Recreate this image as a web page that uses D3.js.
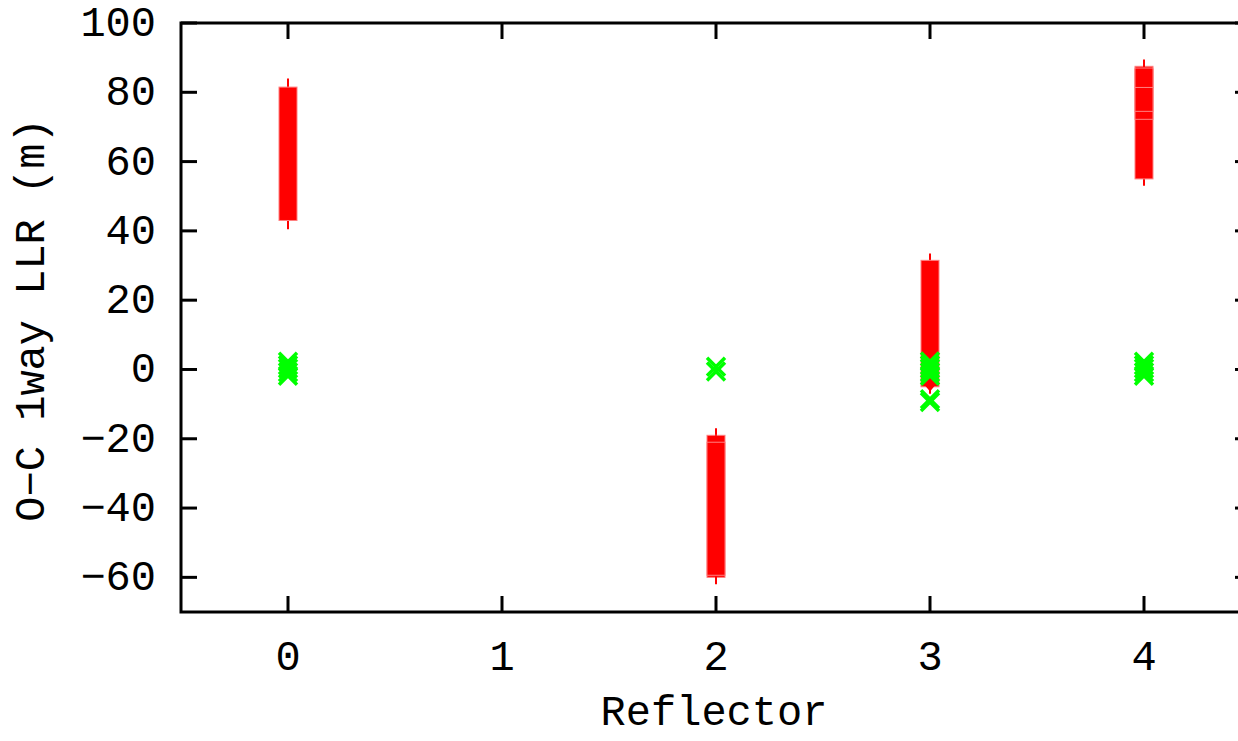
<!DOCTYPE html>
<html>
<head>
<meta charset="utf-8">
<script src="https://cdnjs.cloudflare.com/ajax/libs/d3/7.8.5/d3.min.js"></script>
<style>
  body { margin: 0; background: #fff; }
  text { font-family: "Liberation Mono", "Courier New", monospace; fill: #000; }
</style>
</head>
<body>
<div id="chart"></div>
<script>
// red candles (box lo/hi, whisker min/max) per reflector
var redX   = [0, 2, 2, 3, 4, 4, 4, 4];
var redLo  = [43, -60, -59.4, -5, 55, 72.2, 74.5, 81.4];
var redHi  = [81.5, -19, -21, 31.5, 87.5, 86.6, 81.4, 87];
var redMin = [40.5, -62, -61, -7, 53, 72, 74, 81];
var redMax = [84, -17, -19, 33.5, 89.5, 87, 82, 88];

// stray red point
var redPtX = [3];
var redPtY = [-4.6];

// green x markers
var greenX = [0, 0, 0, 0, 0, 2, 2, 3, 3, 3, 3, 3, 3, 3, 4, 4, 4, 4, 4];
var greenY = [2.2, 1.2, 0.3, -0.8, -1.8, 0.8, -0.6, 2.3, 1.2, 0.3, -0.8, -1.8, -8.6, -9.4, 2.2, 1.2, 0.3, -0.8, -1.8];

var xTicks = [0, 1, 2, 3, 4];
var yTicks = [-60, -40, -20, 0, 20, 40, 60, 80, 100];

var W = 1238, H = 741;
var margin = {left: 181, top: 23, right: 1251, bottom: 612};

var svg = d3.select("#chart").append("svg")
  .attr("width", W)
  .attr("height", H);

var x = d3.scaleLinear().domain([-0.5, 4.5]).range([margin.left, margin.right]);
var y = d3.scaleLinear().domain([-70, 100]).range([margin.bottom, margin.top]);

var tickLen = 16, fs = 42;

// red candlesticks
var boxW = 18;
var candles = svg.append("g");
redX.forEach(function(rx, i) {
  candles.append("line")
    .attr("x1", x(rx)).attr("x2", x(rx))
    .attr("y1", y(redMin[i])).attr("y2", y(redMax[i]))
    .attr("stroke", "#ff0000").attr("stroke-width", 2);
  candles.append("rect")
    .attr("x", x(rx) - boxW / 2)
    .attr("y", y(redHi[i]))
    .attr("width", boxW)
    .attr("height", y(redLo[i]) - y(redHi[i]))
    .attr("fill", "#ff0000")
    .attr("stroke", "#ff8080")
    .attr("stroke-width", 1);
});

svg.append("g").selectAll("path.rp")
  .data(redPtX)
  .join("path")
  .attr("class", "rp")
  .attr("d", function(d, i) {
    var cx = x(d), cy = y(redPtY[i]);
    return "M" + cx + "," + (cy - 6) + "L" + (cx + 5) + "," + cy + "L" + cx + "," + (cy + 6) + "L" + (cx - 5) + "," + cy + "Z";
  })
  .attr("fill", "#ff0000");

// green crosses
var cs = 9;
svg.append("g").selectAll("path.gx")
  .data(greenX)
  .join("path")
  .attr("class", "gx")
  .attr("d", function(d, i) {
    var cx = x(d), cy = y(greenY[i]);
    return "M" + (cx - cs) + "," + (cy - cs) + "L" + (cx + cs) + "," + (cy + cs) +
           "M" + (cx - cs) + "," + (cy + cs) + "L" + (cx + cs) + "," + (cy - cs);
  })
  .attr("fill", "none")
  .attr("stroke", "#00ff00")
  .attr("stroke-width", 3.5);

// frame
svg.append("rect")
  .attr("x", margin.left).attr("y", margin.top)
  .attr("width", margin.right - margin.left)
  .attr("height", margin.bottom - margin.top)
  .attr("fill", "none").attr("stroke", "#000").attr("stroke-width", 3);

// ticks (inward, mirrored)
var tg = svg.append("g").attr("stroke", "#000").attr("stroke-width", 3);
yTicks.forEach(function(v) {
  tg.append("line").attr("x1", margin.left).attr("x2", margin.left + tickLen)
    .attr("y1", y(v)).attr("y2", y(v));
  tg.append("line").attr("x1", margin.right).attr("x2", margin.right - tickLen)
    .attr("y1", y(v)).attr("y2", y(v));
});
xTicks.forEach(function(v) {
  tg.append("line").attr("x1", x(v)).attr("x2", x(v))
    .attr("y1", margin.bottom).attr("y2", margin.bottom - tickLen);
  tg.append("line").attr("x1", x(v)).attr("x2", x(v))
    .attr("y1", margin.top).attr("y2", margin.top + tickLen);
});

// tick labels
svg.append("g").selectAll("text")
  .data(yTicks)
  .join("text")
  .attr("x", 156)
  .attr("y", function(d) { return y(d) + 13; })
  .attr("text-anchor", "end")
  .attr("font-size", fs)
  .text(function(d) { return d < 0 ? "\u2212" + Math.abs(d) : d; });

svg.append("g").selectAll("text")
  .data(xTicks)
  .join("text")
  .attr("x", function(d) { return x(d); })
  .attr("y", 670)
  .attr("text-anchor", "middle")
  .attr("font-size", fs)
  .text(function(d) { return d; });

// axis titles
svg.append("text")
  .attr("x", 714).attr("y", 725)
  .attr("text-anchor", "middle")
  .attr("font-size", fs)
  .text("Reflector");

svg.append("text")
  .attr("transform", "translate(44,320) rotate(-90)")
  .attr("text-anchor", "middle")
  .attr("font-size", fs)
  .text("O\u2212C 1way LLR (m)");
</script>
</body>
</html>
